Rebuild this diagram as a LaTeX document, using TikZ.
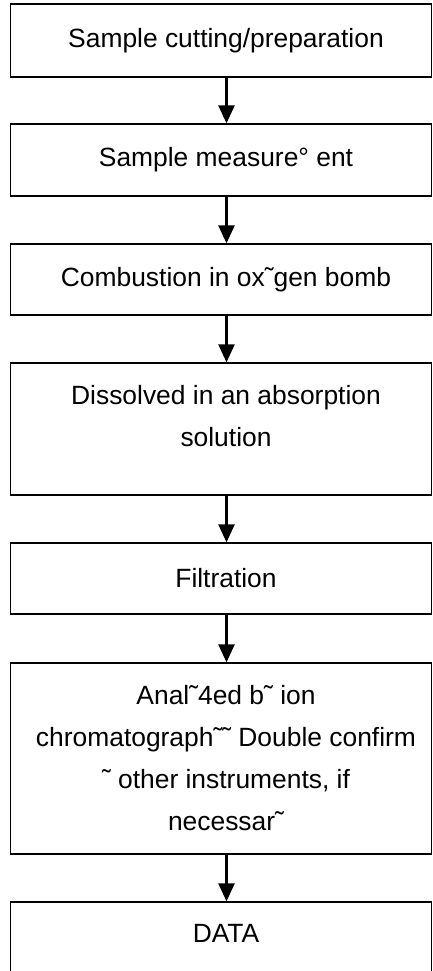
\documentclass[tikz,border=0pt]{standalone}
\usepackage{fontspec}
\setmainfont{Liberation Sans}
\usepackage{tikz}
\usetikzlibrary{arrows.meta}

\begin{document}
\begin{tikzpicture}[x=1pt,y=-1pt,>={Triangle[length=18pt,width=16pt]}]
  \tikzset{
    stepbox/.style={draw,line width=1.3pt,minimum width=421pt,inner sep=0pt},
    steptext/.style={align=center,inner sep=0pt,font=\fontsize{26.4pt}{42pt}\selectfont},
    flow/.style={->,line width=2.4pt}
  }
  \useasboundingbox (0,0) rectangle (433,971);
  \clip (0,0) rectangle (433,971);
  \node[stepbox,minimum height=73pt] (s1) at (221,40.5) {};
  \node[stepbox,minimum height=72pt] (s2) at (221,160) {};
  \node[stepbox,minimum height=71pt] (s3) at (221,279.5) {};
  \node[stepbox,minimum height=132pt] (s4) at (221,429) {};
  \node[stepbox,minimum height=71pt] (s5) at (221,578.5) {};
  \node[stepbox,minimum height=191pt] (s6) at (221,758.5) {};
  \node[stepbox,minimum height=76pt] (s7) at (221,940) {};
  \node[steptext] (t1) at ([xshift=5pt]s1.center) {Sample cutting/preparation};
  \node[steptext] (t2) at ([xshift=5pt]s2.center) {Sample measure° ent};
  \node[steptext] (t3) at ([xshift=5pt]s3.center) {Combustion in ox˜gen bomb};
  \node[steptext] (t4) at ([xshift=5pt,yshift=13pt]s4.center) {Dissolved in an absorption\\solution};
  \node[steptext] (t5) at ([xshift=5pt]s5.center) {Filtration};
  \node[steptext] (t6) at ([xshift=5pt]s6.center) {Anal˜4ed b˜ ion\\chromatograph˜˜ Double confirm\\˜ other instruments, if\\necessar˜};
  \node[steptext] (t7) at ([xshift=5pt]s7.north) [yshift=-32pt] {DATA};
  \draw[flow] ([xshift=5.5pt]s1.south) -- ([xshift=5.5pt]s2.north);
  \draw[flow] ([xshift=5.5pt]s2.south) -- ([xshift=5.5pt]s3.north);
  \draw[flow] ([xshift=5.5pt]s3.south) -- ([xshift=5.5pt]s4.north);
  \draw[flow] ([xshift=5.5pt]s4.south) -- ([xshift=5.5pt]s5.north);
  \draw[flow] ([xshift=5.5pt]s5.south) -- ([xshift=5.5pt]s6.north);
  \draw[flow] ([xshift=5.5pt]s6.south) -- ([xshift=5.5pt]s7.north);
\end{tikzpicture}
\end{document}
